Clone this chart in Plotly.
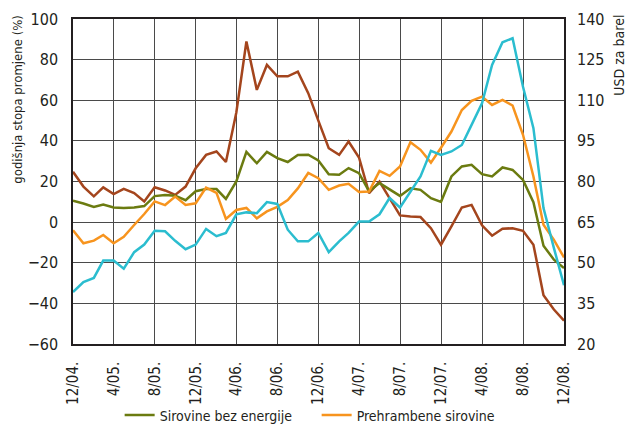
import pandas as pd
import plotly.graph_objects as go

months = pd.date_range("2004-12-01", periods=49, freq="MS")

tick_labels = ["12/04.", "4/05.", "8/05.", "12/05.", "4/06.", "8/06.", "12/06.",
               "4/07.", "8/07.", "12/07.", "4/08.", "8/08.", "12/08."]
tick_dates = pd.date_range("2004-12-01", periods=13, freq="4MS")

sirovine_bez_energije = [10.5, 9.2, 7.5, 8.7, 7.2, 6.9, 7.2, 7.9, 12.8, 13.3, 13.0, 10.8,
                         15.2, 16.3, 16.3, 11.4, 20.0, 34.6, 29.0, 34.6, 31.5, 29.6, 33.1, 33.2,
                         30.4, 23.6, 23.3, 26.6, 24.1, 15.1, 19.2, 15.9, 12.9, 16.7, 15.9, 11.8,
                         10.0, 22.5, 27.4, 28.2, 23.6, 22.5, 26.9, 25.7, 20.8, 9.8, -11.6, -18.5, -22.6]

prehrambene_sirovine = [-4.0, -10.4, -9.1, -6.3, -10.4, -7.2, -1.4, 4.0, 10.2, 8.4, 12.6, 8.5,
                        9.3, 17.0, 14.4, 1.6, 6.0, 7.0, 1.9, 5.3, 7.5, 10.9, 16.6, 24.2,
                        21.6, 15.9, 18.0, 18.9, 14.8, 15.1, 25.2, 22.8, 27.4, 39.3, 35.6, 29.3,
                        36.6, 44.6, 55.2, 59.7, 61.8, 57.7, 60.2, 57.4, 43.0, 22.5, -1.3, -8.7, -17.4]

industrijske_sirovine = [24.8, 17.5, 12.7, 17.1, 13.8, 16.4, 14.3, 10.2, 17.2, 15.6, 13.4, 17.5,
                         26.5, 33.1, 34.8, 29.6, 54.0, 88.9, 65.1, 77.4, 71.8, 71.8, 74.1, 63.5,
                         50.0, 36.4, 33.1, 39.7, 31.8, 14.3, 20.0, 11.8, 3.3, 2.8, 2.5, -3.0,
                         -11.1, -2.1, 7.2, 8.5, -1.6, -6.7, -3.3, -3.0, -4.3, -11.1, -36.0, -43.0, -48.5]

nafta_usd = [39.2, 42.9, 44.4, 50.8, 50.8, 47.8, 53.9, 56.7, 61.8, 61.6, 58.1, 55.0,
             56.7, 62.5, 59.8, 61.0, 67.9, 68.6, 68.3, 72.4, 71.7, 62.2, 57.9, 57.9,
             61.0, 53.9, 57.9, 61.0, 65.2, 65.2, 67.9, 73.9, 70.4, 76.3, 81.9, 91.3,
             89.8, 91.1, 93.5, 100.9, 108.9, 123.0, 131.4, 132.9, 115.0, 99.7, 70.2, 55.4, 41.7]

OLIVE = "#6B7B10"
ORANGE = "#F7941E"
BROWN = "#A4451D"
CYAN = "#2BBDCF"
GRID = "#4a4a4a"
FONT = "'DejaVu Sans Condensed', 'Liberation Sans Narrow', Roboto, 'Liberation Sans', sans-serif"

fig = go.Figure()
fig.add_trace(go.Scatter(x=months, y=industrijske_sirovine, mode="lines",
                         line=dict(color=BROWN, width=2.5), name="Industrijske sirovine",
                         showlegend=False))
fig.add_trace(go.Scatter(x=months, y=sirovine_bez_energije, mode="lines",
                         line=dict(color=OLIVE, width=2.5), name="Sirovine bez energije"))
fig.add_trace(go.Scatter(x=months, y=prehrambene_sirovine, mode="lines",
                         line=dict(color=ORANGE, width=2.5), name="Prehrambene sirovine"))
fig.add_trace(go.Scatter(x=months, y=nafta_usd, mode="lines", yaxis="y2",
                         line=dict(color=CYAN, width=2.5), name="Nafta (desno)",
                         showlegend=False))

# page has an 8px body margin, so the figure is drawn 8px smaller
fig.update_layout(
    width=628, height=417,
    margin=dict(l=65, r=72, t=11, b=81, autoexpand=False),
    paper_bgcolor="white", plot_bgcolor="white",
    font=dict(family=FONT, size=15, color="#231f20"),
    xaxis=dict(
        range=[months[0], months[-1]],
        tickvals=list(tick_dates), ticktext=tick_labels,
        tickangle=-90, ticks="", ticklabelstandoff=10,
        showgrid=True, gridcolor=GRID, gridwidth=1,
        showline=True, linecolor="#231f20", linewidth=1.5, mirror=True,
        zeroline=False,
        tickfont=dict(size=15),
    ),
    yaxis=dict(
        range=[-60, 100], dtick=20, tick0=0,
        ticks="", ticklabelstandoff=10,
        showgrid=True, gridcolor=GRID, gridwidth=1,
        showline=True, linecolor="#231f20", linewidth=1.5, mirror=True,
        zeroline=False,
        tickfont=dict(size=16),
    ),
    yaxis2=dict(
        range=[20, 140], dtick=15, tick0=20,
        overlaying="y", side="right",
        ticks="", ticklabelstandoff=12,
        showgrid=False, zeroline=False,
        tickfont=dict(size=16),
    ),
    legend=dict(
        orientation="h", x=0.095, xanchor="left", y=-0.22, yanchor="middle",
        font=dict(size=14), entrywidth=152, entrywidthmode="pixels",
        bgcolor="rgba(0,0,0,0)",
    ),
    annotations=[
        dict(text="godišnja stopa promjene (%)", xref="paper", yref="paper",
             x=-0.112, y=1.018, xanchor="center", yanchor="top", textangle=-90,
             showarrow=False, font=dict(size=13)),
        dict(text="USD za barel", xref="paper", yref="paper",
             x=1.112, y=1.021, xanchor="center", yanchor="top", textangle=-90,
             showarrow=False, font=dict(size=14)),
    ],
)

fig.write_html("out.html")
